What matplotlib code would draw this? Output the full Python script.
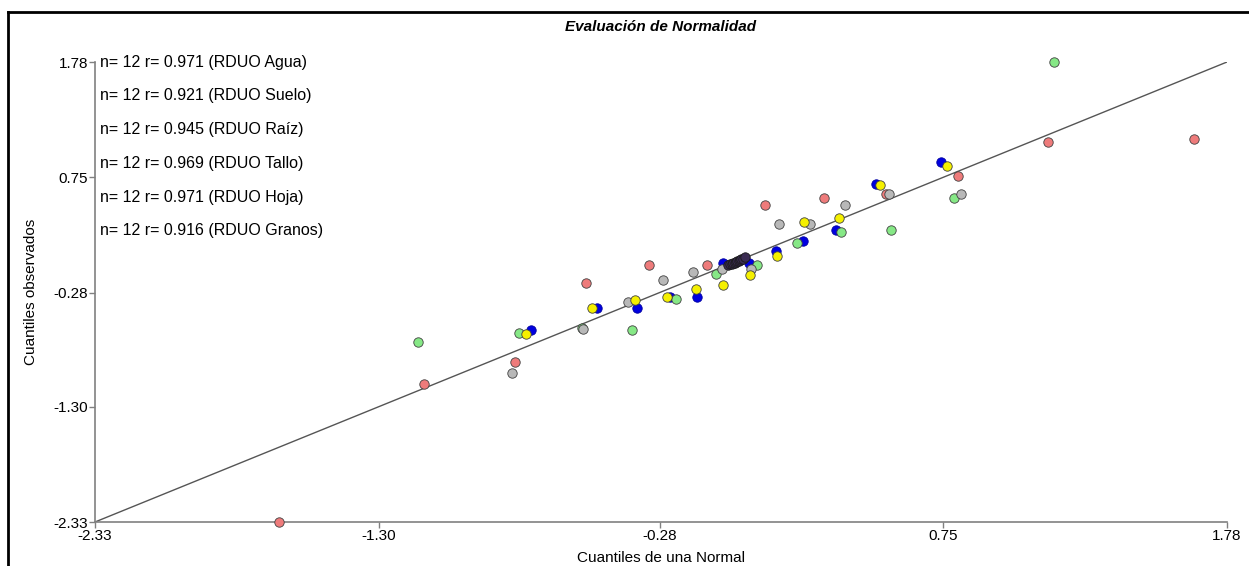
import matplotlib.pyplot as plt
from matplotlib.lines import Line2D

plt.rcParams['font.family'] = ['Liberation Sans', 'DejaVu Sans']

# cuantiles teoricos (x) y observados (y) de cada residuo estandarizado
agua_x = [-1.661, -1.134, -0.806, -0.547, -0.319, -0.107, 0.103, 0.317, 0.542, 0.803, 1.131, 1.661]
agua_y = [-2.330, -1.100, -0.898, -0.197, -0.031, -0.032, 0.502, 0.565, 0.601, 0.764, 1.068, 1.095]

suelo_x = [-1.156, -0.790, -0.562, -0.381, -0.221, -0.074, 0.073, 0.218, 0.379, 0.559, 0.787, 1.152]
suelo_y = [-0.719, -0.639, -0.601, -0.614, -0.337, -0.117, -0.034, 0.163, 0.264, 0.282, 0.562, 1.777]

raiz_x = [-0.815, -0.558, -0.396, -0.269, -0.158, -0.052, 0.051, 0.154, 0.266, 0.394, 0.554, 0.813]
raiz_y = [-0.996, -0.606, -0.364, -0.168, -0.099, -0.067, -0.070, 0.333, 0.333, 0.502, 0.601, 0.601]

tallo_x = [-0.765, -0.524, -0.370, -0.252, -0.148, -0.051, 0.048, 0.145, 0.246, 0.370, 0.520, 0.763]
tallo_y = [-0.653, -0.418, -0.349, -0.317, -0.248, -0.210, -0.123, 0.047, 0.348, 0.384, 0.681, 0.851]

hoja_x = [-0.747, -0.508, -0.362, -0.244, -0.145, -0.049, 0.046, 0.143, 0.242, 0.361, 0.506, 0.742]
hoja_y = [-0.614, -0.418, -0.418, -0.320, -0.317, -0.019, -0.019, 0.091, 0.181, 0.279, 0.686, 0.884]

granos_x = [-0.030, -0.023, -0.017, -0.012, -0.007, -0.002, 0.002, 0.007, 0.012, 0.017, 0.023, 0.030]
granos_y = [-0.036, -0.028, -0.022, -0.018, -0.012, -0.008, -0.002, 0.004, 0.010, 0.016, 0.024, 0.034]

etiquetas = ["n= 12 r= 0.971 (RDUO Agua)",
             "n= 12 r= 0.921 (RDUO Suelo)",
             "n= 12 r= 0.945 (RDUO Raíz)",
             "n= 12 r= 0.969 (RDUO Tallo)",
             "n= 12 r= 0.971 (RDUO Hoja)",
             "n= 12 r= 0.916 (RDUO Granos)"]

ticks = [-2.33, -1.30, -0.28, 0.75, 1.78]
lim_inf, lim_sup = -2.33, 1.78

fig = plt.figure(figsize=(12.49, 5.66), dpi=100)
ax = fig.add_axes([95 / 1249, 1 - 522 / 566, 1132 / 1249, 460 / 566])

# recta de referencia y = x
ax.plot([lim_inf, lim_sup], [lim_inf, lim_sup], color="#555555", lw=1, zorder=1)

gris_borde = "#404040"
estilo = dict(s=46, linewidths=0.6, clip_on=False, zorder=3)
ax.scatter(agua_x, agua_y, color="#ee7b7b", edgecolors=gris_borde, **estilo)
ax.scatter(hoja_x, hoja_y, color="#0000e0", edgecolors="#0000a0", **estilo)
ax.scatter(suelo_x, suelo_y, color="#86e886", edgecolors=gris_borde, **estilo)
ax.scatter(raiz_x, raiz_y, color="#b8b8b8", edgecolors=gris_borde, **estilo)
ax.scatter(tallo_x, tallo_y, color="#f5f000", edgecolors=gris_borde, **estilo)
ax.scatter(granos_x, granos_y, color="#3a2c52", edgecolors="#1a1a1a", s=46, linewidths=0.6, zorder=4)

ax.set_xlim(lim_inf, lim_sup)
ax.set_ylim(lim_inf, lim_sup)
ax.set_xticks(ticks)
ax.set_yticks(ticks)
ax.set_xticklabels([f"{t:.2f}" for t in ticks])
ax.set_yticklabels([f"{t:.2f}" for t in ticks])
ax.tick_params(colors="#808080", labelcolor="black", labelsize=11, length=4, width=1, pad=1)

for lado in ["top", "right"]:
    ax.spines[lado].set_visible(False)
for lado in ["left", "bottom"]:
    ax.spines[lado].set_color("#808080")
    ax.spines[lado].set_linewidth(1.2)

ax.set_xlabel("Cuantiles de una Normal", fontsize=11, labelpad=6)
ax.set_ylabel("Cuantiles observados", fontsize=11, labelpad=11)
ax.set_title("Evaluación de Normalidad", fontsize=11, fontweight="bold", style="italic", pad=22)

# textos con n y r de cada variable
for i, texto in enumerate(etiquetas):
    ax.text(0.0045, 1.0 - i * 33.8 / 460, texto, transform=ax.transAxes,
            fontsize=11.5, va="center", ha="left")

# marco negro de la ventana
fig.add_artist(Line2D([8 / 1249, 8 / 1249], [0, 1 - 12 / 566], color="black", lw=2))
fig.add_artist(Line2D([8 / 1249, 1], [1 - 12 / 566, 1 - 12 / 566], color="black", lw=2))

fig.savefig("out.png", dpi=100)
